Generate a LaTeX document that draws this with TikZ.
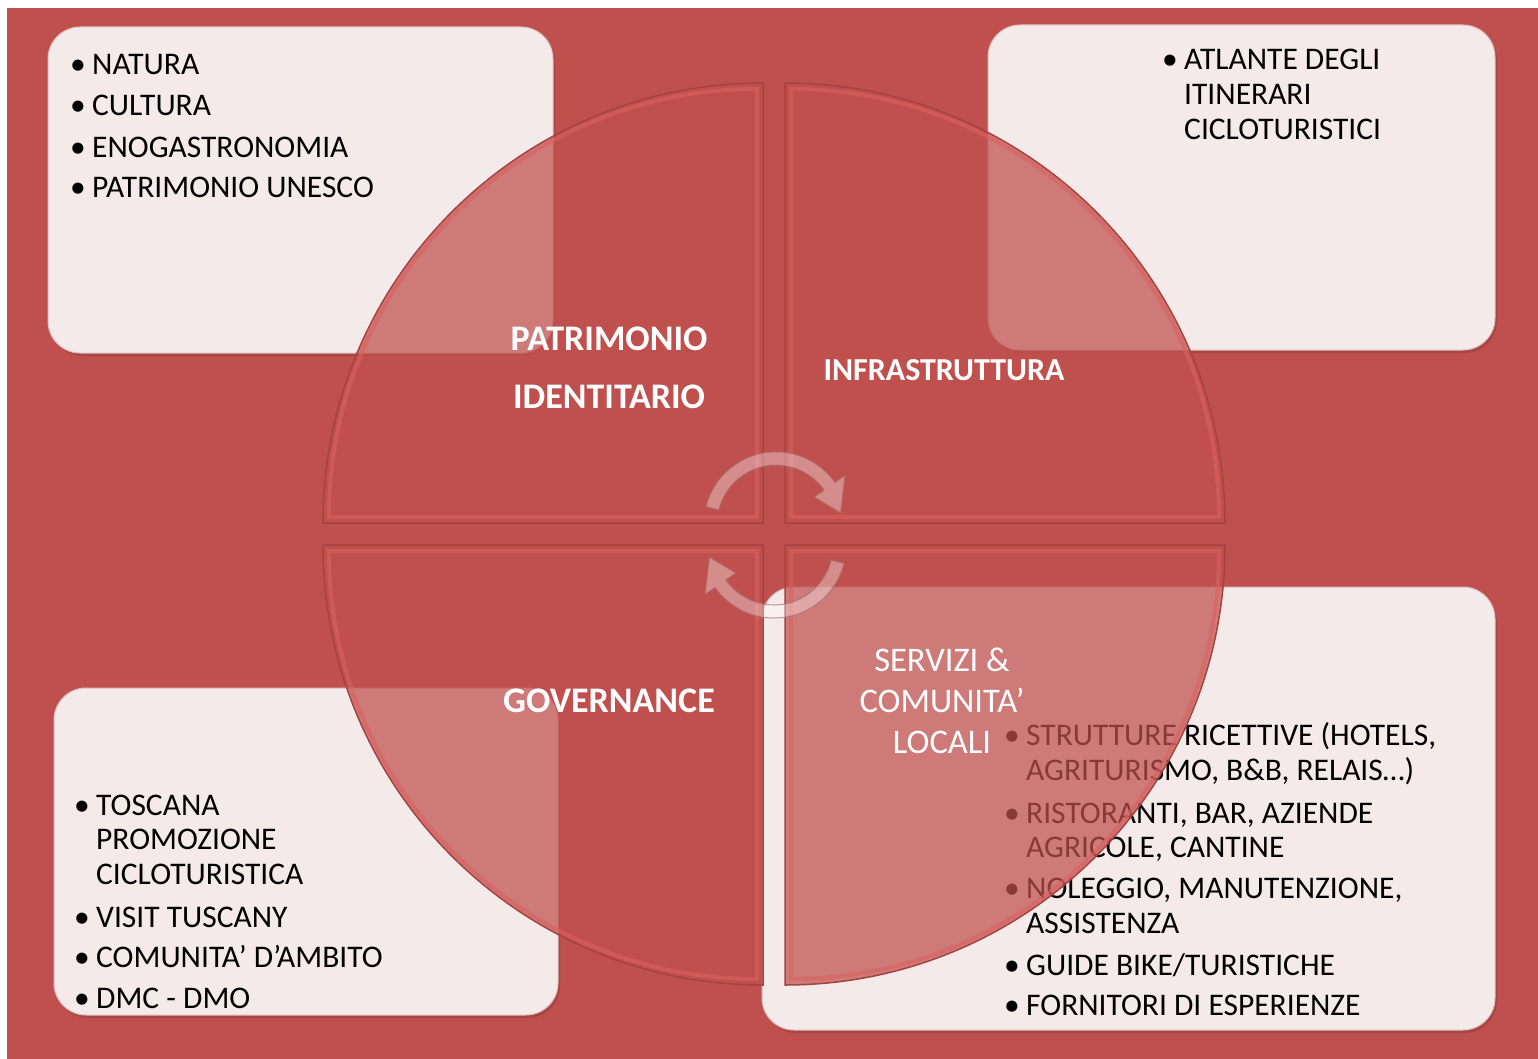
\documentclass[tikz,border=0pt]{standalone}
\usepackage{fontspec}
\setmainfont{Carlito}
\usetikzlibrary{calc}

\definecolor{bgred}{HTML}{C0504D}
\definecolor{boxpink}{HTML}{F5EAEA}
\definecolor{boxedge}{HTML}{DDBDBD}
\definecolor{quadred}{HTML}{C0504D}
\definecolor{quadedge}{HTML}{A54341}
\definecolor{quadlight}{HTML}{DA6160}
\definecolor{arrowedge}{HTML}{A87072}

\newcommand{\bul}{\makebox[22pt][l]{\textbullet}}
\newcommand{\ind}{\makebox[22pt]{}}

\tikzset{
  listbox/.style={fill=boxpink, draw=boxedge, line width=1pt, rounded corners=32pt},
  boxshadow/.style={fill=black, fill opacity=.12, rounded corners=32pt},
  listtext/.style={inner sep=0pt, align=left, anchor=base west, font=\fontsize{31.5}{34.5}\selectfont},
  quad/.style={fill=quadred, fill opacity=.72, draw=quadedge, line width=1.5pt},
  bevel/.style={draw=quadlight, line width=4pt, opacity=.6},
  cyclearrow/.style={fill=white, fill opacity=.35, draw=arrowedge, draw opacity=.7, line width=1pt},
  quadlabel/.style={text=white, inner sep=0pt, align=center, anchor=base}
}

\begin{document}
\begin{tikzpicture}[x=1pt, y=-1pt]
\useasboundingbox (0,0) rectangle (1538,1059);
\fill[bgred] (7,8) rectangle (1538,1059);

% riquadri con gli elenchi
\fill[boxshadow] (50,30) rectangle (555,356);
\draw[listbox] (48,27) rectangle (553,353);
\fill[boxshadow] (990,28) rectangle (1497,353);
\draw[listbox] (988,25) rectangle (1495,350);
\fill[boxshadow] (56,691) rectangle (560,1018);
\draw[listbox] (54,688) rectangle (558,1015);
\fill[boxshadow] (764,590) rectangle (1497,1033);
\draw[listbox] (762,587) rectangle (1495,1030);

% (base = ultima riga del testo)
\node[listtext] (natura) at (70,198) {\bul NATURA\\[6.5pt] \bul CULTURA\\[7.5pt] \bul ENOGASTRONOMIA\\[6pt] \bul PATRIMONIO UNESCO};
\node[listtext, font=\fontsize{31.5}{35}\selectfont] (atlante) at (1162,140) {\bul ATLANTE DEGLI\\ \ind ITINERARI\\ \ind CICLOTURISTICI};
\node[listtext] (toscana) at (74,1008) {\bul TOSCANA\\ \ind PROMOZIONE\\ \ind CICLOTURISTICA\\[8.5pt] \bul VISIT TUSCANY\\[5.5pt] \bul COMUNITA’ D’AMBITO\\[6.5pt] \bul DMC - DMO};
\node[listtext] (strutture) at (1004,1015) {\bul STRUTTURE RICETTIVE (HOTELS,\\ \ind AGRITURISMO, B\&B, RELAIS…)\\[8.5pt] \bul RISTORANTI, BAR, AZIENDE\\ \ind AGRICOLE, CANTINE\\[6.5pt] \bul NOLEGGIO, MANUTENZIONE,\\ \ind ASSISTENZA\\[7.5pt] \bul GUIDE BIKE/TURISTICHE\\[5.5pt] \bul FORNITORI DI ESPERIENZE};

% i quattro quadranti del cerchio
\filldraw[quad] (763,523) -- (323,523) arc[start angle=180, end angle=270, radius=440] -- cycle;
\draw[bevel] (757,517) -- (329,517) arc[start angle=180, end angle=270, radius=428] -- cycle;
\filldraw[quad] (785,523) -- (785,83) arc[start angle=270, end angle=360, radius=440] -- cycle;
\draw[bevel] (791,517) -- (791,89) arc[start angle=270, end angle=360, radius=428] -- cycle;
\filldraw[quad] (785,545) -- (1225,545) arc[start angle=0, end angle=90, radius=440] -- cycle;
\draw[bevel] (791,551) -- (1219,551) arc[start angle=0, end angle=90, radius=428] -- cycle;
\filldraw[quad] (763,545) -- (763,985) arc[start angle=90, end angle=180, radius=440] -- cycle;
\draw[bevel] (757,551) -- (757,979) arc[start angle=90, end angle=180, radius=428] -- cycle;

% frecce circolari al centro
\coordinate (c1) at (776,524);
\coordinate (c2) at (774,546);
\filldraw[cyclearrow] ([shift={(194:72)}]c1) arc[start angle=194, end angle=325, radius=72]
  -- ([shift={(325:84)}]c1) -- ([shift={(350:65.5)}]c1) -- ([shift={(325:47)}]c1)
  -- ([shift={(325:59)}]c1) arc[start angle=325, end angle=194, radius=59] -- cycle;
\filldraw[cyclearrow] ([shift={(14:72)}]c2) arc[start angle=14, end angle=145, radius=72]
  -- ([shift={(145:84)}]c2) -- ([shift={(170:65.5)}]c2) -- ([shift={(145:47)}]c2)
  -- ([shift={(145:59)}]c2) arc[start angle=145, end angle=14, radius=59] -- cycle;

% etichette dei quadranti
\node[quadlabel, font=\fontsize{36}{58}\selectfont\bfseries] (patrimonio) at (609,408) {PATRIMONIO\\IDENTITARIO};
\node[quadlabel, font=\fontsize{32}{38}\selectfont\bfseries] (infra) at (944,380) {INFRASTRUTTURA};
\node[quadlabel, font=\fontsize{36}{40}\selectfont\bfseries] (governance) at (609,712) {GOVERNANCE};
\node[quadlabel, font=\fontsize{34.5}{41}\selectfont] (servizi) at (942,753) {SERVIZI \&\\COMUNITA’\\LOCALI};
\end{tikzpicture}
\end{document}
